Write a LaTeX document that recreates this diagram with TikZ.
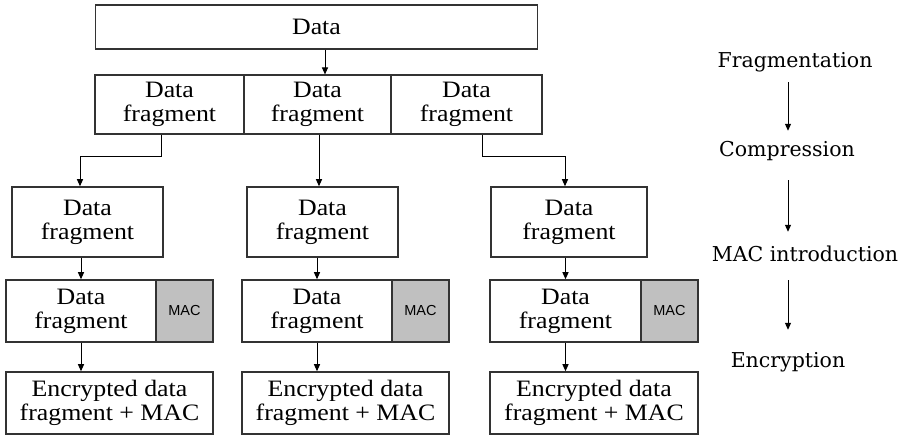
\documentclass[tikz,border=0pt]{standalone}
\usepackage{fontspec}
\setmainfont{Liberation Serif}[FakeStretch=1.1]
\newfontfamily\stagefont{DejaVu Serif}
\newfontfamily\macfont{Liberation Sans}
\usetikzlibrary{arrows.meta,positioning}
\definecolor{macgray}{HTML}{C0C0C0}
\definecolor{edgegray}{HTML}{333333}

\begin{document}
\begin{tikzpicture}[x=1pt,y=-1pt,
  box/.style={draw=edgegray, line width=1.5pt, inner sep=0pt, align=center,
    font=\fontsize{23.5}{24}\selectfont},
  macbox/.style={draw=edgegray, line width=1.5pt, fill=macgray, inner sep=0pt,
    font=\macfont\fontsize{14.5}{16}\selectfont},
  arr/.style={line width=1pt, -{Triangle[length=7pt,width=6pt]}},
  stage/.style={inner sep=0pt, text height=15pt, text depth=5pt,
    font=\stagefont\fontsize{20.5}{22}\selectfont}]
  \useasboundingbox (0,0) rectangle (910,435);

  % Data and its fragments
  \node[box, line width=1.1pt, minimum width=442pt, minimum height=44pt] (data) at (316.5,27) {Data};
  \node[box, line width=1.1pt, minimum width=149pt, minimum height=59pt] (f1) at (169.5,104.5) {Data\\fragment};
  \node[box, line width=1.1pt, minimum width=147pt, minimum height=59pt] (f2) at (317.5,104.5) {Data\\fragment};
  \node[box, line width=1.1pt, minimum width=151pt, minimum height=59pt] (f3) at (466.5,104.5) {Data\\fragment};
  \draw[arr] (data.south -| 325,0) -- (f2.north -| 325,0);

  % Compressed fragments
  \node[box, minimum width=151pt, minimum height=70pt] (c1) at (87.5,222) {Data\\fragment};
  \node[box, minimum width=151pt, minimum height=70pt] (c2) at (322.5,222) {Data\\fragment};
  \node[box, minimum width=156pt, minimum height=70pt] (c3) at (569,222) {Data\\fragment};
  \draw[arr] (f1.south -| 161,0) |- (80,157) -- (c1.north -| 80,0);
  \draw[arr] (f2.south -| 319,0) -- (c2.north -| 319,0);
  \draw[arr] (f3.south -| 482,0) |- (565,157) -- (c3.north -| 565,0);

  % Fragments with MAC
  \node[box, minimum width=150pt, minimum height=62pt] (m1) at (81,311) {Data\\fragment};
  \node[macbox, minimum width=57pt, minimum height=62pt] (mac1) at (184.5,311) {MAC};
  \node[box, minimum width=150pt, minimum height=62pt] (m2) at (317,311) {Data\\fragment};
  \node[macbox, minimum width=57pt, minimum height=62pt] (mac2) at (420.5,311) {MAC};
  \node[box, minimum width=151pt, minimum height=62pt] (m3) at (565.5,311) {Data\\fragment};
  \node[macbox, minimum width=57pt, minimum height=62pt] (mac3) at (669.5,311) {MAC};
  \draw[arr] (c1.south -| m1) -- (m1.north);
  \draw[arr] (c2.south -| m2) -- (m2.north);
  \draw[arr] (c3.south -| m3) -- (m3.north);

  % Encrypted fragments
  \node[box, minimum width=207pt, minimum height=62pt] (e1) at (109.5,403) {Encrypted data\\fragment + MAC};
  \node[box, minimum width=207pt, minimum height=62pt] (e2) at (345.5,403) {Encrypted data\\fragment + MAC};
  \node[box, minimum width=208pt, minimum height=62pt] (e3) at (594,403) {Encrypted data\\fragment + MAC};
  \draw[arr] (m1.south) -- (e1.north -| m1);
  \draw[arr] (m2.south) -- (e2.north -| m2);
  \draw[arr] (m3.south) -- (e3.north -| m3);

  % Steps
  \coordinate (ax) at (788,0);
  \node[stage] (s1) at (795,63) {Fragmentation};
  \node[stage] (s2) at (787,152) {Compression};
  \node[stage] (s3) at (805,257) {MAC introduction};
  \node[stage] (s4) at (788,363) {Encryption};
  \draw[arr, shorten <=9pt, shorten >=11pt] (s1.south -| ax) -- (s2.north -| ax);
  \draw[arr, shorten <=18pt, shorten >=15pt] (s2.south -| ax) -- (s3.north -| ax);
  \draw[arr, shorten <=13pt, shorten >=23pt] (s3.south -| ax) -- (s4.north -| ax);
\end{tikzpicture}
\end{document}
